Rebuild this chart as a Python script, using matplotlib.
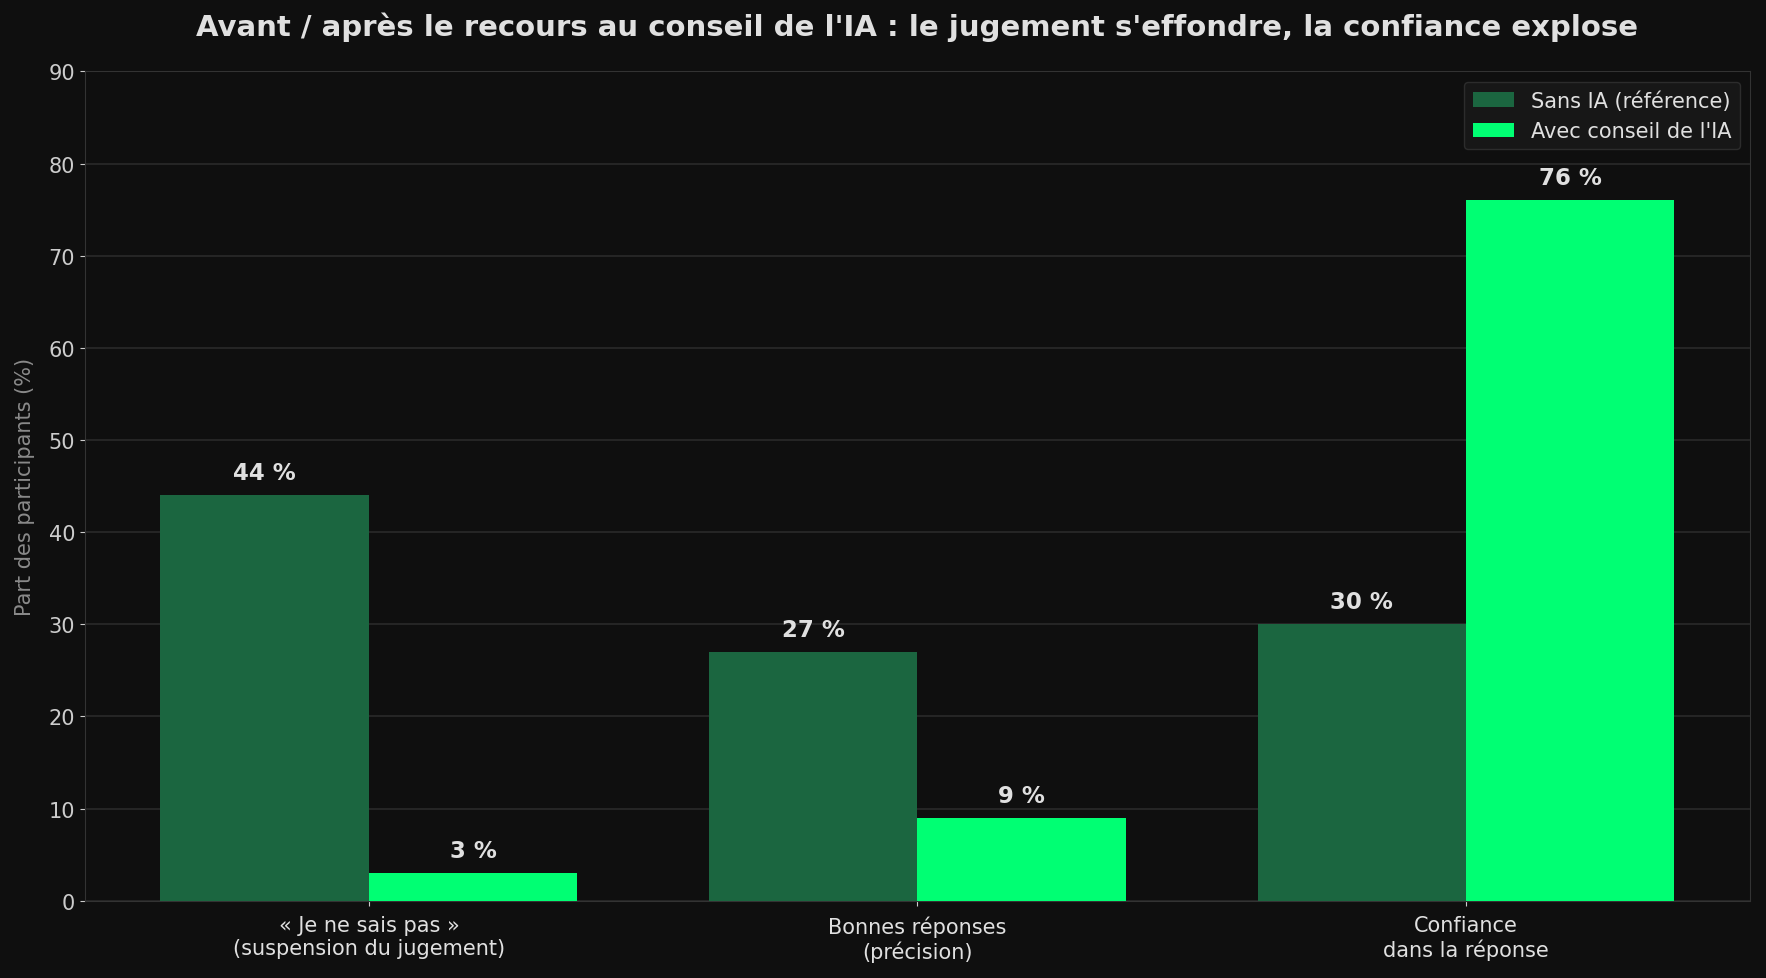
import matplotlib.pyplot as plt
import numpy as np

categories = ["« Je ne sais pas »\n(suspension du jugement)",
              "Bonnes réponses\n(précision)",
              "Confiance\ndans la réponse"]
sans_ia = [44, 27, 30]
avec_ia = [3, 9, 76]

bg = '#0f0f0f'
txt = '#e0e0e0'
dark_green = '#1b6640'
bright_green = '#00ff73'

fig, ax = plt.subplots(figsize=(17.66, 9.79), dpi=100)
fig.patch.set_facecolor(bg)
ax.set_facecolor(bg)

x = np.arange(len(categories))
w = 0.38
b1 = ax.bar(x - w / 2, sans_ia, w, color=dark_green, label='Sans IA (référence)', zorder=3)
b2 = ax.bar(x + w / 2, avec_ia, w, color=bright_green, label="Avec conseil de l'IA", zorder=3)

for bars, vals in [(b1, sans_ia), (b2, avec_ia)]:
    for r, v in zip(bars, vals):
        ax.text(r.get_x() + r.get_width() / 2, v + 1.2, f"{v} %", ha='center', va='bottom',
                color=txt, fontsize=16.5, fontweight='bold')

ax.set_ylim(0, 90)
ax.set_yticks(range(0, 91, 10))
ax.set_xticks(x)
ax.set_xticklabels(categories)
ax.tick_params(colors='#cccccc', labelsize=15)
ax.tick_params(axis='x', colors='#cccccc', labelcolor=txt, pad=7)
ax.set_ylabel('Part des participants (%)', color='#8a8a8a', fontsize=15, labelpad=10)
ax.grid(axis='y', color='#2a2a2a', linewidth=1.2, zorder=0)
for s in ax.spines.values():
    s.set_color('#333333')

ax.set_title("Avant / après le recours au conseil de l'IA : le jugement s'effondre, la confiance explose",
             color=txt, fontsize=21, fontweight='bold', pad=26)

leg = ax.legend(loc='upper right', fontsize=15, facecolor='#1a1a1a', edgecolor='#333333')
for t in leg.get_texts():
    t.set_color(txt)

plt.subplots_adjust(left=0.048, right=0.991, top=0.926, bottom=0.079)
plt.savefig('out.png', facecolor=bg)
